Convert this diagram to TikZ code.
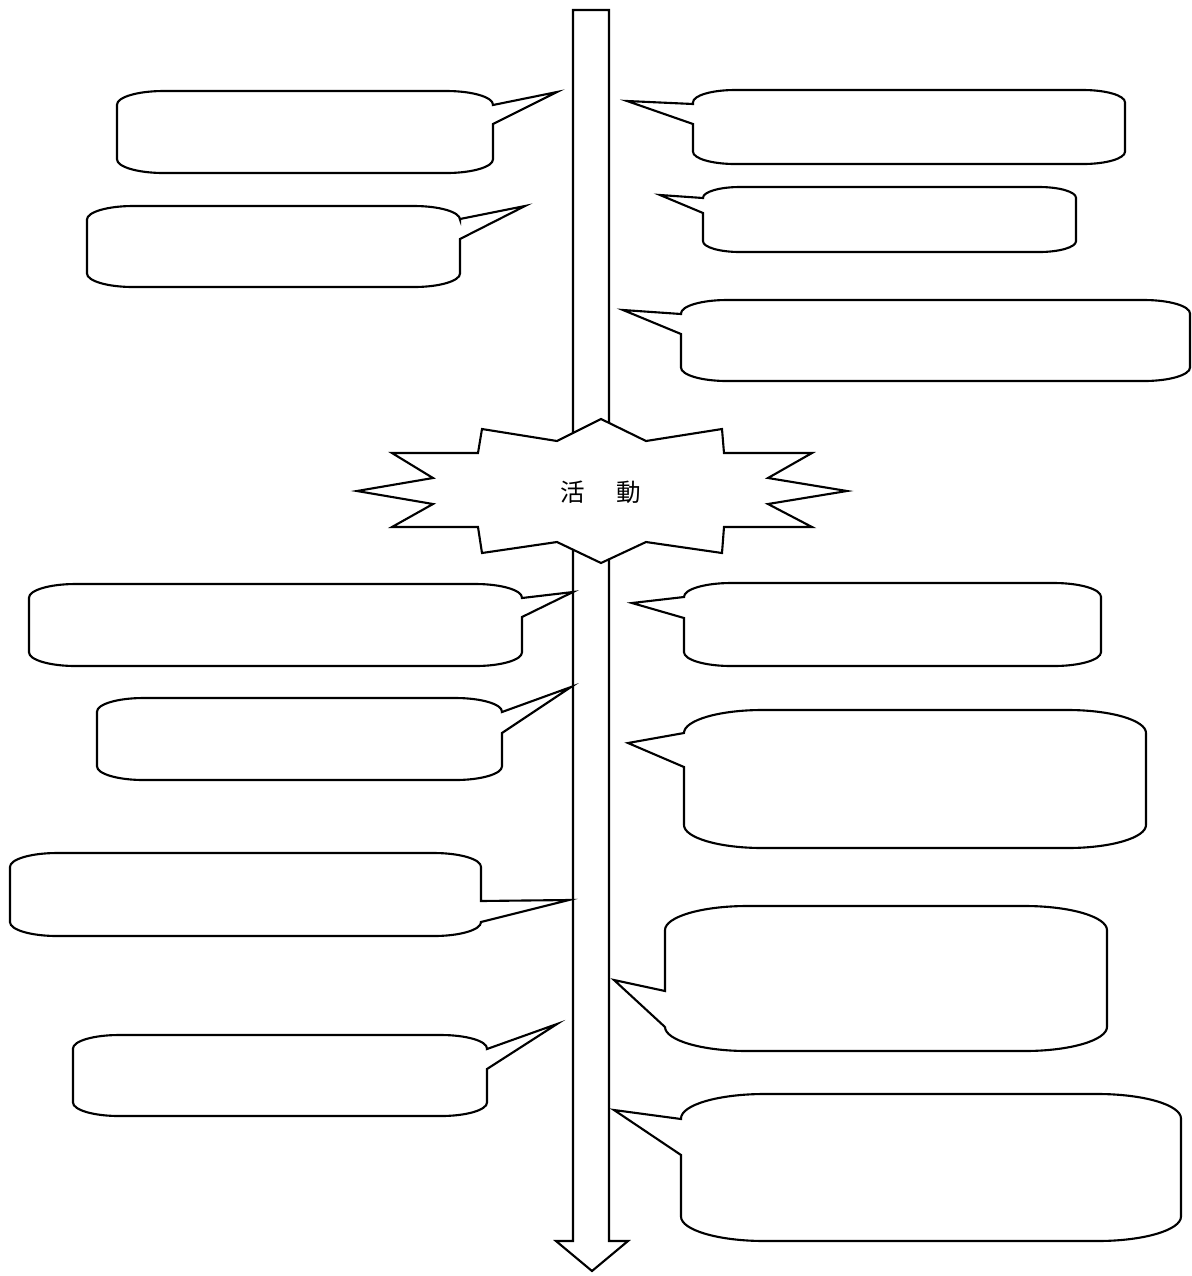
\documentclass[tikz,border=0pt]{standalone}
\usepackage{fontspec}
\usepackage{tikz}
\newfontfamily\cjkfont{Noto Sans CJK TC}
\tikzset{>=stealth}
\tikzset{outline/.style={draw=black, fill=white, line width=1.2pt, line join=miter}}

% rounded box, pointer on its right edge: L T R B, base from y to y, tip x y
\newcommand{\calloutR}[8]{%
  \pgfmathsetmacro\cry{(#4-#2)/6}%
  \pgfmathsetmacro\crx{3.4*\cry}%
  \path[outline] (#1,#2+\cry) arc[start angle=180,end angle=270,x radius=\crx,y radius=\cry]
    -- (#3-\crx,#2) arc[start angle=270,end angle=360,x radius=\crx,y radius=\cry]
    -- (#3,#5) -- (#7,#8) -- (#3,#6) -- (#3,#4-\cry)
    arc[start angle=0,end angle=90,x radius=\crx,y radius=\cry]
    -- (#1+\crx,#4) arc[start angle=90,end angle=180,x radius=\crx,y radius=\cry] -- cycle;}

% rounded box, pointer on its left edge
\newcommand{\calloutL}[8]{%
  \pgfmathsetmacro\cry{(#4-#2)/6}%
  \pgfmathsetmacro\crx{3.4*\cry}%
  \path[outline] (#1,#2+\cry) arc[start angle=180,end angle=270,x radius=\crx,y radius=\cry]
    -- (#3-\crx,#2) arc[start angle=270,end angle=360,x radius=\crx,y radius=\cry]
    -- (#3,#4-\cry) arc[start angle=0,end angle=90,x radius=\crx,y radius=\cry]
    -- (#1+\crx,#4) arc[start angle=90,end angle=180,x radius=\crx,y radius=\cry]
    -- (#1,#6) -- (#7,#8) -- (#1,#5) -- cycle;}

\begin{document}
\begin{tikzpicture}[x=0.02cm, y=-0.02cm]
\useasboundingbox (0,0) rectangle (1192,1276);

% time line
\path[outline] (573,10) -- (609,10) -- (609,1241) -- (628,1241) -- (592,1271)
  -- (556,1241) -- (573,1241) -- cycle;

% burst
\path[outline] (601,419) -- (646,441) -- (722,429) -- (724,453) -- (812,453)
  -- (768,478) -- (847,491) -- (768,504) -- (812,527) -- (724,527) -- (722,553)
  -- (646,542) -- (601,563) -- (557,542) -- (482,553) -- (478,527) -- (392,527)
  -- (433,504) -- (357,491) -- (433,478) -- (392,453) -- (478,453) -- (482,429)
  -- (557,441) -- cycle;
\node[font=\cjkfont\fontsize{14}{16}\selectfont] (act) at (601,492) {活\hspace{1.3em}動};

% left side
\calloutR{117}{91}{493}{173}{105}{124}{557}{92}
\calloutR{87}{206}{460}{287}{219}{239}{525}{206}
\calloutR{29}{584}{522}{666}{598}{617}{573}{592}
\calloutR{97}{698}{502}{780}{712}{733}{571}{687}
\calloutR{10}{853}{481}{936}{901}{922}{569}{900}
\calloutR{73}{1035}{487}{1116}{1049}{1069}{557}{1024}

% right side
\calloutL{693}{90}{1125}{164}{104}{124}{627}{101}
\calloutL{703}{187}{1076}{252}{198}{213}{660}{195}
\calloutL{681}{300}{1190}{381}{314}{334}{623}{310}
\calloutL{684}{583}{1101}{666}{597}{618}{632}{603}
\calloutL{684}{710}{1146}{848}{733}{767}{628}{743}
\calloutL{665}{906}{1107}{1051}{991}{1027}{614}{980}
\calloutL{681}{1094}{1181}{1241}{1119}{1155}{614}{1110}
\end{tikzpicture}
\end{document}
